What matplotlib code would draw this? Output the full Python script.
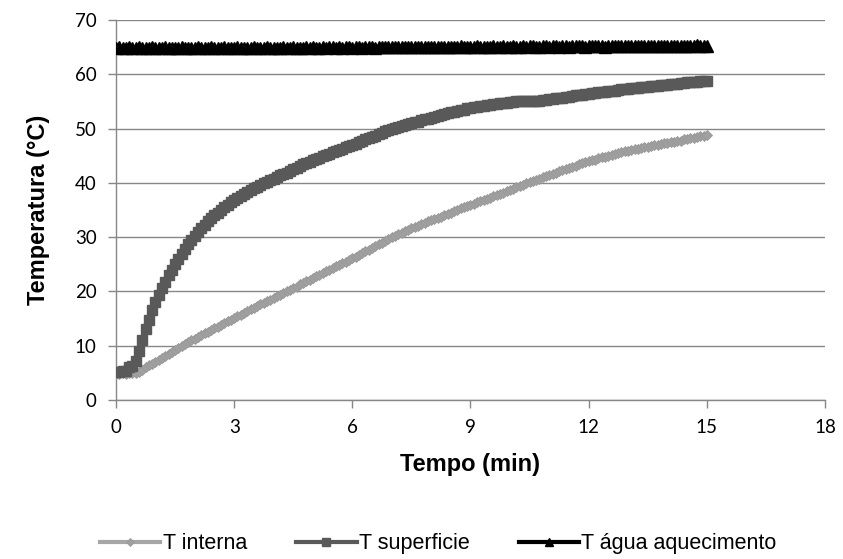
import numpy as np
import matplotlib.pyplot as plt
from matplotlib.ticker import MultipleLocator

# ── Data (one reading every 5 s, 0-15 min) ───────────────────────────────────
SAMPLE_S = 5

t_superficie = [
    5.2, 5.2, 5.3, 5.4, 6.0, 6.2, 7.2, 9.0, 11.0, 13.0, 14.8, 16.5,
    18.0, 19.3, 20.6, 21.8, 23.0, 24.0, 25.0, 26.0, 26.9, 27.8, 28.7, 29.5,
    30.3, 31.0, 31.7, 32.3, 32.9, 33.5, 34.0, 34.5, 35.0, 35.5, 35.9, 36.4,
    36.8, 37.2, 37.6, 37.9, 38.3, 38.7, 39.0, 39.3, 39.6, 39.9, 40.2, 40.5,
    40.8, 41.1, 41.4, 41.7, 41.9, 42.2, 42.5, 42.8, 43.1, 43.4, 43.6, 43.9,
    44.2, 44.4, 44.6, 44.9, 45.1, 45.4, 45.6, 45.8, 46.1, 46.3, 46.6, 46.8,
    47.0, 47.2, 47.5, 47.7, 48.0, 48.2, 48.5, 48.7, 49.0, 49.2, 49.5, 49.7,
    50.0, 50.2, 50.3, 50.5, 50.7, 50.8, 51.0, 51.2, 51.3, 51.5, 51.7, 51.8,
    52.0, 52.2, 52.3, 52.5, 52.7, 52.8, 53.0, 53.1, 53.3, 53.4, 53.5, 53.7,
    53.8, 53.9, 54.0, 54.1, 54.2, 54.3, 54.4, 54.5, 54.6, 54.7, 54.8, 54.8,
    54.9, 54.9, 55.0, 55.0, 55.0, 55.0, 55.0, 55.0, 55.1, 55.1, 55.2, 55.3,
    55.4, 55.5, 55.6, 55.7, 55.7, 55.8, 55.9, 56.0, 56.1, 56.2, 56.2, 56.3,
    56.4, 56.5, 56.6, 56.7, 56.7, 56.8, 56.9, 57.0, 57.0, 57.1, 57.2, 57.2,
    57.3, 57.4, 57.4, 57.5, 57.6, 57.6, 57.7, 57.8, 57.8, 57.9, 58.0, 58.0,
    58.1, 58.2, 58.2, 58.3, 58.4, 58.4, 58.5, 58.5, 58.6, 58.6, 58.7, 58.7,
    58.8,
]

t_interna = [
    4.8, 4.8, 4.9, 4.8, 4.9, 5.0, 5.0, 5.2, 5.6, 6.0, 6.4, 6.7,
    7.0, 7.4, 7.8, 8.2, 8.5, 8.9, 9.3, 9.6, 9.9, 10.3, 10.6, 11.0,
    11.3, 11.6, 11.9, 12.3, 12.6, 12.9, 13.2, 13.5, 13.8, 14.2, 14.5, 14.8,
    15.1, 15.4, 15.7, 16.1, 16.4, 16.7, 17.0, 17.3, 17.6, 17.9, 18.2, 18.5,
    18.8, 19.1, 19.4, 19.7, 20.0, 20.3, 20.6, 20.9, 21.3, 21.6, 21.9, 22.2,
    22.5, 22.8, 23.1, 23.4, 23.7, 24.0, 24.3, 24.6, 24.9, 25.2, 25.5, 25.8,
    26.1, 26.4, 26.7, 27.0, 27.4, 27.7, 28.0, 28.3, 28.7, 29.0, 29.3, 29.7,
    30.0, 30.3, 30.5, 30.8, 31.1, 31.3, 31.6, 31.9, 32.1, 32.4, 32.6, 32.9,
    33.1, 33.4, 33.6, 33.8, 34.1, 34.3, 34.5, 34.8, 35.0, 35.3, 35.5, 35.8,
    36.0, 36.2, 36.4, 36.7, 36.9, 37.1, 37.3, 37.5, 37.8, 38.0, 38.2, 38.5,
    38.7, 38.9, 39.2, 39.4, 39.6, 39.9, 40.1, 40.3, 40.6, 40.8, 41.0, 41.3,
    41.5, 41.7, 41.9, 42.2, 42.4, 42.6, 42.8, 43.0, 43.2, 43.4, 43.6, 43.8,
    44.0, 44.2, 44.3, 44.5, 44.7, 44.8, 45.0, 45.2, 45.3, 45.5, 45.6, 45.8,
    45.9, 46.0, 46.2, 46.3, 46.4, 46.6, 46.7, 46.8, 46.9, 47.0, 47.2, 47.3,
    47.4, 47.5, 47.6, 47.7, 47.8, 48.0, 48.1, 48.2, 48.3, 48.5, 48.6, 48.7,
    48.9,
]

t_agua = [
    64.8, 65.0, 64.9, 64.9, 65.0, 64.8, 64.9, 65.0, 64.9, 64.8, 64.9, 65.0,
    64.9, 64.8, 64.9, 65.0, 64.9, 64.9, 64.8, 64.9, 65.0, 64.9, 64.8, 64.9,
    64.9, 65.0, 64.8, 64.9, 64.9, 65.0, 64.8, 64.9, 64.9, 65.0, 64.9, 64.8,
    64.9, 65.0, 64.9, 64.8, 64.9, 64.9, 65.0, 64.9, 64.8, 64.9, 65.0, 64.9,
    64.9, 64.8, 64.9, 65.0, 64.9, 64.9, 65.0, 64.8, 64.9, 64.9, 65.0, 64.9,
    65.0, 64.9, 64.9, 65.0, 64.9, 65.0, 65.0, 64.9, 65.0, 64.9, 65.0, 65.0,
    64.9, 65.0, 65.0, 64.9, 65.0, 65.1, 65.0, 64.9, 65.0, 65.0, 65.1, 65.0,
    65.0, 65.1, 65.0, 65.0, 65.1, 65.0, 65.0, 65.1, 65.1, 65.0, 65.0, 65.1,
    65.0, 65.1, 65.1, 65.0, 65.1, 65.1, 65.0, 65.1, 65.1, 65.2, 65.1, 65.0,
    65.1, 65.1, 65.2, 65.1, 65.1, 65.0, 65.1, 65.2, 65.1, 65.1, 65.2, 65.1,
    65.1, 65.2, 65.1, 65.1, 65.2, 65.1, 65.2, 65.2, 65.1, 65.1, 65.2, 65.2,
    65.1, 65.2, 65.2, 65.1, 65.2, 65.2, 65.1, 65.2, 65.2, 65.3, 65.2, 65.1,
    65.2, 65.2, 65.3, 65.2, 65.2, 65.1, 65.2, 65.3, 65.2, 65.2, 65.3, 65.2,
    65.2, 65.3, 65.2, 65.2, 65.3, 65.2, 65.3, 65.3, 65.2, 65.2, 65.3, 65.3,
    65.2, 65.3, 65.3, 65.2, 65.3, 65.3, 65.2, 65.3, 65.3, 65.4, 65.3, 65.3,
    65.3,
]

tempo = np.arange(len(t_interna)) * SAMPLE_S / 60.0

GRID = '#878787'
TICK_FONT = 'Lato'
TEXT_FONT = ['Liberation Sans', 'DejaVu Sans']

# ── Figure ────────────────────────────────────────────────────────────────────
fig = plt.figure(figsize=(8.43, 5.59), dpi=100)
ax = fig.add_axes([0.1376, 0.2844, 0.8410, 0.6798])

ax.plot(tempo, t_interna, color='#A6A6A6', linewidth=3, marker='D',
        markersize=5.5, markerfacecolor='#A0A0A0', markeredgecolor='#999999',
        markeredgewidth=0.6, label='T interna', zorder=3)
ax.plot(tempo, t_superficie, color='#595959', linewidth=3, marker='s',
        markersize=7, markerfacecolor='#595959', markeredgecolor='#595959',
        label='T superficie', zorder=4)
ax.plot(tempo, t_agua, color='black', linewidth=3, marker='^',
        markersize=8, markerfacecolor='black', markeredgecolor='black',
        label='T água aquecimento', zorder=5)

ax.set_xlim(0, 18)
ax.set_ylim(0, 70)
ax.xaxis.set_major_locator(MultipleLocator(3))
ax.yaxis.set_major_locator(MultipleLocator(10))

ax.grid(axis='y', color=GRID, linewidth=1.0)
ax.set_axisbelow(True)
for side in ('top', 'right'):
    ax.spines[side].set_visible(False)
for side in ('left', 'bottom'):
    ax.spines[side].set_color(GRID)
    ax.spines[side].set_linewidth(1.0)

ax.tick_params(axis='both', direction='out', length=6, width=1.0,
               color=GRID, labelsize=13.5, labelcolor='black')
ax.tick_params(axis='y', pad=8)
ax.tick_params(axis='x', pad=8)
for lbl in ax.get_xticklabels() + ax.get_yticklabels():
    lbl.set_fontfamily(TICK_FONT)

ax.set_xlabel('Tempo (min)', fontsize=17, fontweight='bold',
              family=TEXT_FONT, labelpad=12)
ax.set_ylabel('Temperatura (°C)', fontsize=17, fontweight='bold',
              family=TEXT_FONT, labelpad=18)

fig.legend(loc='center', bbox_to_anchor=(0.52, 0.027), ncol=3,
           frameon=False, handlelength=2.8, handletextpad=0.1,
           columnspacing=2.3, markerscale=0.8,
           prop={'family': TEXT_FONT, 'size': 15.5})

fig.savefig('out.png', dpi=100)
